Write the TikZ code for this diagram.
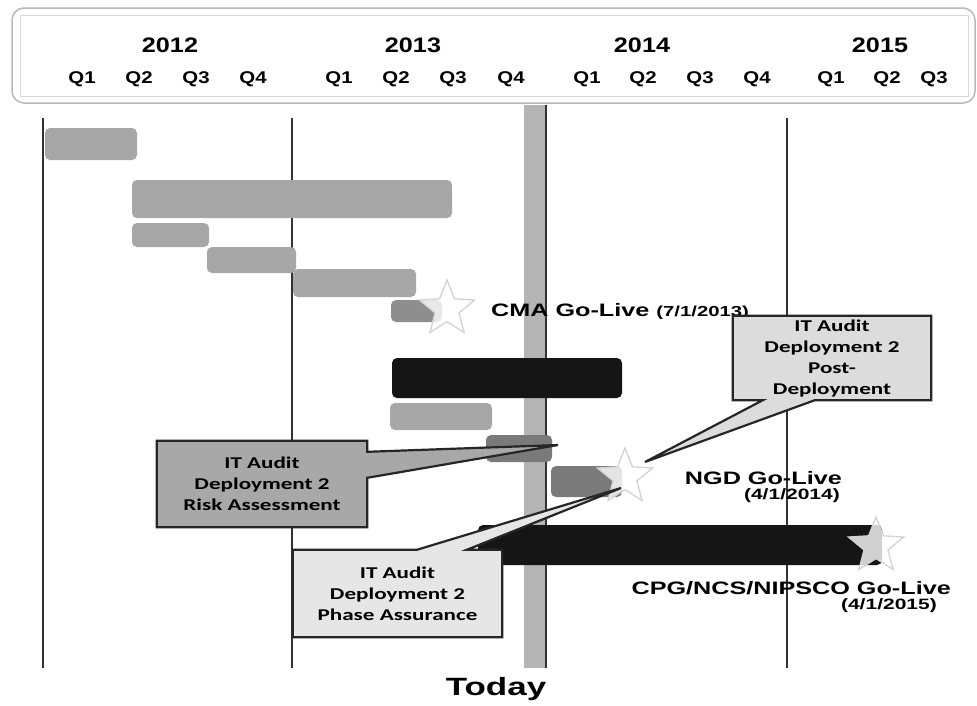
\documentclass[tikz,border=0pt]{standalone}
\usepackage{fontspec}
\setmainfont{Liberation Sans}
\newfontfamily\hdrfont[FakeStretch=1.2]{Liberation Sans}
\newfontfamily\lblfont[FakeStretch=1.4]{Liberation Sans}
\newfontfamily\boxfont[FakeStretch=1.4]{Carlito}
\usetikzlibrary{shapes.geometric}
\pgfdeclarelayer{front}
\pgfsetlayers{main,front}

\definecolor{barlight}{HTML}{A7A7A7}
\definecolor{barmid}{HTML}{8E8E8E}
\definecolor{bardark}{HTML}{7A7A7A}
\definecolor{barblack}{HTML}{151515}
\definecolor{todayband}{HTML}{B4B4B4}
\definecolor{riskfill}{HTML}{A8A8A8}
\definecolor{phasefill}{HTML}{E6E6E6}
\definecolor{postfill}{HTML}{DCDCDC}

\begin{document}
\begin{tikzpicture}[x=1pt, y=-1pt,
  bar/.style={rounded corners=5pt},
  gridline/.style={draw=black!80, line width=1.3pt},
  yearlbl/.style={font=\hdrfont\bfseries\fontsize{21}{23}\selectfont, inner sep=0pt},
  qlbl/.style={font=\hdrfont\bfseries\fontsize{17}{19}\selectfont, inner sep=0pt},
  golbl/.style={font=\lblfont\bfseries\fontsize{18}{20}\selectfont, inner sep=0pt},
  datelbl/.style={font=\lblfont\bfseries\fontsize{15}{17}\selectfont, inner sep=0pt},
  goal/.style={star, star points=5, star point ratio=2.3, minimum size=58pt,
    inner sep=0pt, draw=gray!35, line width=1.3pt, fill=white, fill opacity=0.8},
  calloutline/.style={draw=black!85, line width=2.2pt, line join=miter},
  callouttext/.style={font=\boxfont\bfseries\fontsize{16.5}{21}\selectfont,
    align=center, text=black, inner sep=0pt}
]
\useasboundingbox (0,0) rectangle (977,705);
\fill[white] (0,0) rectangle (977,705);

% ---- timeline header ----
\draw[rounded corners=12pt, draw=gray!55, line width=1.5pt, fill=white] (12,8) rectangle (975,103);
\draw[draw=gray!30, line width=1pt] (20,15) rectangle (968,96);

\node[yearlbl] (y2012) at (170,45) {2012};
\node[yearlbl] (y2013) at (413,45) {2013};
\node[yearlbl] (y2014) at (642,45) {2014};
\node[yearlbl] (y2015) at (880,45) {2015};

\foreach \x/\q [count=\i] in {82/Q1,139/Q2,196/Q3,253/Q4,
                              339/Q1,396/Q2,453/Q3,511/Q4,
                              587/Q1,643/Q2,700/Q3,757/Q4,
                              831/Q1,887/Q2,934/Q3}
  \node[qlbl] (q\i) at (\x,79) {\q};

% ---- today band ----
\fill[todayband] (524,105) rectangle (547,668);

% ---- year separators ----
\draw[gridline] (43,118) -- (43,668);
\draw[gridline] (292,118) -- (292,668);
\draw[gridline] (546,105) -- (546,668);
\draw[gridline] (787,118) -- (787,668);

% ---- activity bars ----
\fill[bar, barlight] (45,128) rectangle (137,160);
\fill[bar, barlight] (132,180) rectangle (452,218);
\fill[bar, barlight] (132,223) rectangle (209,247);
\fill[bar, barlight] (207,247) rectangle (296,273);
\fill[bar, barlight] (293,269) rectangle (416,297);
\fill[bar, barmid]   (391,300) rectangle (442,322);
\fill[bar, barblack] (392,358) rectangle (622,398);
\fill[bar, barlight] (390,403) rectangle (492,430);
\fill[bar, bardark]  (486,435) rectangle (552,462);
\fill[bar, bardark]  (551,466) rectangle (622,497);
\fill[bar, barblack] (478,525) rectangle (882,565);

% ---- go-live milestones ----
\node[goal] (starCMA) at (447,309) {};
\node[goal] (starNGD) at (625,477) {};
\node[goal] (starCPG) at (876,546) {};

\node[golbl, anchor=west] (cma) at (491,311)
  {CMA Go-Live {\fontsize{14.5}{16}\selectfont (7/1/2013)}};
\node[golbl, anchor=east] (ngd) at (842,478) {NGD Go-Live};
\node[datelbl, anchor=east] (ngddate) at (840,496) {(4/1/2014)};
\node[golbl, anchor=east] (cpg) at (951,588) {CPG/NCS/NIPSCO Go-Live};
\node[datelbl, anchor=east] (cpgdate) at (937,606) {(4/1/2015)};

\node[font=\lblfont\bfseries\fontsize{25}{28}\selectfont, inner sep=0pt] (today) at (496,689) {Today};

% ---- callouts ----
\begin{pgfonlayer}{front}
\node[callouttext, minimum width=210pt, minimum height=86pt] (risk) at (262,484)
  {IT Audit\\Deployment 2\\Risk Assessment};
\node[callouttext, minimum width=209pt, minimum height=87pt] (phase) at (397.5,593.5)
  {IT Audit\\Deployment 2\\Phase Assurance};
\node[callouttext, minimum width=198pt, minimum height=84pt] (post) at (832,358)
  {IT Audit\\Deployment 2\\Post-\\Deployment};
\end{pgfonlayer}

\coordinate (riskTip) at (558,445);
\coordinate (phaseTip) at (621,488);
\coordinate (postTip) at (645,462);

\draw[calloutline, fill=riskfill]
  (risk.north west) -- (risk.north east) -- ([yshift=-11pt]risk.north east)
  -- (riskTip) -- ([yshift=-37pt]risk.north east)
  -- (risk.south east) -- (risk.south west) -- cycle;
\draw[calloutline, fill=phasefill]
  (phase.north west) -- ([xshift=124pt]phase.north west) -- (phaseTip)
  -- ([xshift=174pt]phase.north west) -- (phase.north east)
  -- (phase.south east) -- (phase.south west) -- cycle;
\draw[calloutline, fill=postfill]
  (post.north west) -- (post.north east) -- (post.south east)
  -- ([xshift=82pt]post.south west) -- (postTip)
  -- ([xshift=30pt]post.south west) -- (post.south west) -- cycle;
\end{tikzpicture}
\end{document}
